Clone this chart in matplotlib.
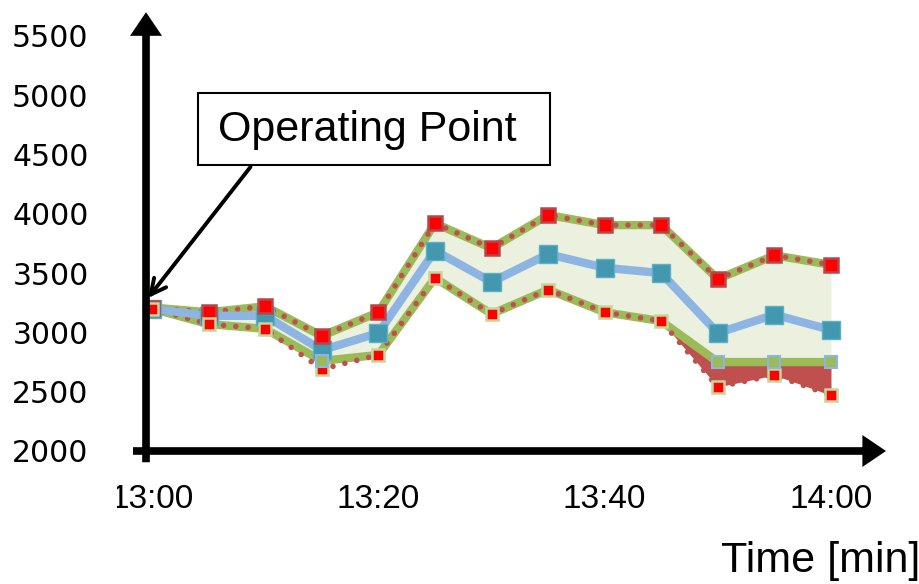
import matplotlib.pyplot as plt
import matplotlib.transforms as mtransforms
from matplotlib.patches import Rectangle
import numpy as np

# minutes after 13:00
minutes = [0, 5, 10, 15, 20, 25, 30, 35, 40, 45, 50, 55, 60]
upper = [3210, 3170, 3220, 2970, 3170, 3920, 3710, 3990, 3905, 3905, 3450, 3650, 3570]
mean = [3200, 3140, 3140, 2850, 2995, 3690, 3425, 3660, 3545, 3500, 2995, 3150, 3020]
lower = [3200, 3070, 3030, 2690, 2810, 3460, 3155, 3360, 3170, 3095, 2540, 2640, 2470]
limit = [3200, 3070, 3030, 2760, 2810, 3460, 3155, 3360, 3170, 3095, 2750, 2750, 2750]

xtick_pos = [0, 20, 40, 60]
xtick_labels = ["13:00", "13:20", "13:40", "14:00"]
ytick_pos = [2000, 2500, 3000, 3500, 4000, 4500, 5000, 5500]

W, H = 920, 584
fig = plt.figure(figsize=(9.2, 5.84), dpi=100)
ax = fig.add_axes([133 / W, (H - 451) / H, 753 / W, 438.8 / H])
ax.set_xlim(-1.68, 64.86)
ax.set_ylim(2000, 5700)
for s in ax.spines.values():
    s.set_visible(False)

x = np.array(minutes)
up = np.array(upper)
lo = np.array(lower)
lim = np.array(limit)

# band fills
ax.fill_between(x, lim, up, color="#EBF1DE", lw=0, zorder=1)
red_zone = (x >= 45)
ax.fill_between(x, lo, lim, where=red_zone, color="#C0504D", lw=0, zorder=1)

# thick green border lines
ax.plot(x, up, color="#9BBB59", lw=6, solid_joinstyle="round", zorder=2)
ax.plot(x, lim, color="#9BBB59", lw=6, solid_joinstyle="round", zorder=2)
# red dotted lines on top
dots = (0, (0.01, 2.2))
ax.plot(x, up, color="#C0504D", lw=4, ls=dots, dash_capstyle="round", zorder=3)
ax.plot(x, lo, color="#C0504D", lw=4, ls=dots, dash_capstyle="round", zorder=3)
# mean line
ax.plot(x, mean, color="#8DB4E2", lw=6, solid_joinstyle="round", zorder=4)

# markers
ax.plot(x, mean, ls="none", marker="s", ms=13, mfc="#4398B0", mec="#5BAFC8", mew=1, zorder=5)
ax.plot(x, up, ls="none", marker="s", ms=10, mfc="#FF0000", mec="#B5474A", mew=1.8, zorder=6)
ax.plot(x, lo, ls="none", marker="s", ms=9, mfc="#FF0000", mec="#C3D69B", mew=1.8, zorder=6)
diff = lim != lo
ax.plot(x[diff], lim[diff], ls="none", marker="s", ms=9, mfc="#9BBB59", mec="#8DB4E2", mew=1.5, zorder=6)

# axis arrows
arrow = dict(arrowstyle="simple,head_length=1.7,head_width=2.3,tail_width=0.55",
             fc="black", ec="none", shrinkA=0, shrinkB=0, mutation_scale=10)
ax.annotate("", xy=(64.86, 2000), xytext=(-1.68, 2000), arrowprops=arrow,
            annotation_clip=False, zorder=7)
ax.annotate("", xy=(-0.53, 5700), xytext=(-0.53, 1905), arrowprops=arrow,
            annotation_clip=False, zorder=7)

# ticks
ax.set_xticks([])
ax.set_yticks(ytick_pos)
ax.set_yticklabels([str(v) for v in ytick_pos], fontsize=21.5, family="DejaVu Sans")
ax.tick_params(axis="y", length=0, pad=32)

clip = mtransforms.TransformedBbox(mtransforms.Bbox([[117 / W, 0], [1, 1]]), fig.transFigure)
trans = mtransforms.blended_transform_factory(ax.transData, fig.transFigure)
for pos, lab in zip(xtick_pos, xtick_labels):
    t = ax.text(pos, 1 - 500 / H, lab, transform=trans, ha="center", va="center",
                fontsize=24, family="Liberation Sans")
    t.set_clip_box(clip)
    t.set_clip_on(True)

fig.text(1.0, 1 - 561 / H, "Time [min]", ha="right", va="center",
         fontsize=31, family="Liberation Sans")

# operating point annotation
fig.add_artist(Rectangle((198 / W, 1 - 165 / H), 352 / W, 72 / H, transform=fig.transFigure,
                         fill=False, ec="black", lw=1.5))
fig.text(367 / W, 1 - 130 / H, "Operating Point", ha="center", va="center",
         fontsize=31, family="Liberation Sans")
ax.annotate("", xy=(-0.35, 3290), xytext=(8.7, 4395),
            arrowprops=dict(arrowstyle="->,head_length=1.1,head_width=0.55", lw=2.8,
                            color="black", shrinkA=0, shrinkB=0, mutation_scale=10),
            annotation_clip=False, zorder=8)

fig.savefig("out.png", dpi=100)
